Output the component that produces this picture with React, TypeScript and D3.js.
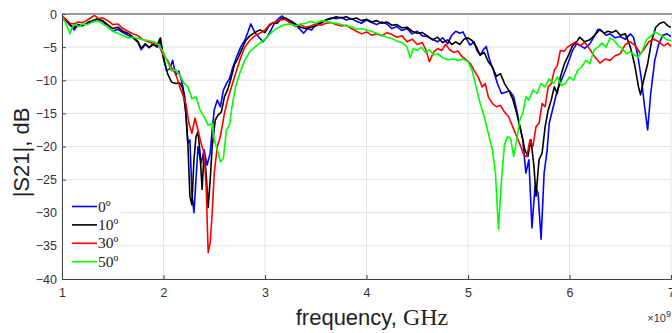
import React, { useEffect, useRef } from 'react';
import * as d3 from 'd3';

// frequency in GHz, |S21| in dB
const deg0: [number, number][] = [
  [1.0,-0.8],[1.04,-1.0],[1.08,-1.6],[1.12,-2.4],[1.15,-1.8],[1.2,-1.7],[1.25,-1.4],[1.3,-1.2],[1.35,-0.9],[1.4,-1.1],
  [1.45,-1.9],[1.5,-2.6],[1.55,-2.3],[1.6,-2.8],[1.65,-3.2],[1.7,-3.6],[1.75,-4.3],[1.78,-5.4],[1.82,-4.6],[1.86,-5.1],
  [1.9,-4.4],[1.94,-5.0],[1.97,-4.0],[2.0,-6.5],[2.03,-8.5],[2.06,-8.3],[2.09,-7.0],[2.12,-9.2],[2.15,-8.6],[2.18,-10.2],
  [2.21,-12.5],[2.24,-19.5],[2.26,-19.0],[2.28,-27],[2.3,-30],[2.32,-25],[2.34,-20],[2.37,-22.5],[2.4,-20.5],[2.43,-22.8],
  [2.46,-21],[2.48,-17.5],[2.5,-14.5],[2.53,-13],[2.56,-14],[2.59,-11.5],[2.62,-10.5],[2.65,-9.8],[2.68,-8.2],[2.72,-6.5],
  [2.76,-5.0],[2.8,-4.0],[2.83,-2.8],[2.86,-1.5],[2.9,-2.8],[2.94,-3.5],[2.98,-4.2],[3.02,-3.5],[3.06,-2.4],[3.1,-1.2],
  [3.14,-0.6],[3.17,-0.3],[3.2,-0.8],[3.25,-1.2],[3.3,-1.6],[3.35,-2.4],[3.38,-2.9],[3.42,-2.2],[3.46,-2.4],[3.5,-1.6],
  [3.55,-1.3],[3.6,-0.9],[3.65,-0.6],[3.7,-0.7],[3.75,-0.5],[3.8,-0.9],[3.85,-0.7],[3.9,-1.1],[3.95,-1.4],[4.0,-0.9],
  [4.05,-1.3],[4.1,-1.6],[4.15,-1.2],[4.2,-1.5],[4.25,-2.2],[4.3,-1.9],[4.35,-2.5],[4.4,-2.2],[4.45,-3.0],[4.5,-2.6],
  [4.55,-3.3],[4.6,-3.4],[4.65,-3.8],[4.7,-4.2],[4.75,-3.6],[4.8,-4.5],[4.84,-3.2],[4.88,-2.6],[4.92,-2.9],[4.95,-2.7],
  [4.98,-3.6],[5.02,-4.7],[5.06,-4.2],[5.09,-5.6],[5.12,-6.2],[5.15,-5.4],[5.18,-4.9],[5.21,-6.8],[5.25,-8.5],[5.29,-10.5],
  [5.33,-12.0],[5.37,-11.8],[5.41,-11.6],[5.45,-12.5],[5.48,-14.5],[5.51,-17],[5.54,-19],[5.57,-24],[5.6,-22],[5.63,-32.3],
  [5.66,-26],[5.69,-27],[5.72,-34],[5.75,-24],[5.78,-20.5],[5.8,-16.5],[5.84,-14],[5.88,-11.5],[5.92,-10],[5.96,-8.5],
  [6.0,-6.8],[6.03,-5.5],[6.07,-4.5],[6.1,-4.7],[6.15,-5.2],[6.2,-4.5],[6.24,-3.5],[6.28,-2.3],[6.32,-2.6],[6.36,-3.2],
  [6.4,-3.0],[6.45,-3.6],[6.5,-3.4],[6.55,-3.8],[6.6,-3.0],[6.63,-3.5],[6.67,-6],[6.71,-10],[6.74,-14],[6.77,-17.5],
  [6.8,-12],[6.84,-7],[6.88,-4.5],[6.92,-3.2],[6.96,-3.0],[7.0,-3.4],
];

const deg10: [number, number][] = [
  [1.0,-0.4],[1.04,-0.9],[1.08,-1.7],[1.12,-2.0],[1.16,-1.6],[1.2,-1.8],[1.25,-1.3],[1.3,-1.0],[1.35,-0.7],[1.4,-1.0],
  [1.45,-1.6],[1.5,-2.2],[1.55,-2.0],[1.6,-2.6],[1.65,-2.9],[1.7,-3.5],[1.75,-4.2],[1.78,-5.2],[1.82,-4.5],[1.86,-5.0],
  [1.9,-4.6],[1.93,-4.9],[1.97,-3.6],[2.0,-6.8],[2.04,-9.0],[2.08,-10.3],[2.12,-10.5],[2.16,-10.4],[2.19,-11.2],[2.22,-15],
  [2.24,-19.5],[2.26,-27.5],[2.28,-28.8],[2.3,-22],[2.32,-18.5],[2.34,-17.8],[2.36,-21],[2.38,-26.5],[2.4,-21],[2.42,-24],
  [2.44,-29.2],[2.46,-25],[2.48,-20],[2.51,-16],[2.54,-15.2],[2.57,-14.8],[2.6,-12.5],[2.63,-11.5],[2.66,-10],[2.7,-7.6],
  [2.73,-6.8],[2.77,-5.4],[2.81,-4.0],[2.85,-3.3],[2.9,-2.8],[2.95,-2.4],[3.0,-2.8],[3.04,-1.8],[3.08,-1.3],[3.12,-1.4],
  [3.16,-0.7],[3.2,-0.6],[3.25,-1.0],[3.3,-1.5],[3.35,-2.0],[3.4,-2.2],[3.45,-2.0],[3.5,-1.8],[3.55,-1.4],[3.6,-0.9],
  [3.65,-0.7],[3.7,-0.4],[3.75,-0.6],[3.8,-0.4],[3.85,-0.8],[3.9,-0.6],[3.95,-1.0],[4.0,-0.8],[4.05,-1.2],[4.1,-1.0],
  [4.15,-1.4],[4.2,-1.2],[4.25,-1.7],[4.3,-1.6],[4.35,-2.1],[4.4,-2.0],[4.45,-2.6],[4.5,-2.9],[4.55,-2.8],[4.6,-3.3],
  [4.65,-3.9],[4.7,-3.5],[4.75,-4.3],[4.8,-3.9],[4.84,-4.6],[4.88,-4.2],[4.92,-4.6],[4.96,-3.8],[5.0,-3.6],[5.04,-4.0],
  [5.08,-4.9],[5.12,-6.2],[5.16,-5.8],[5.2,-7.2],[5.24,-8.0],[5.28,-9.4],[5.32,-9.0],[5.36,-10.5],[5.4,-11.5],[5.44,-12.8],
  [5.48,-15],[5.52,-17.5],[5.56,-20.5],[5.59,-21.5],[5.62,-19],[5.65,-23],[5.67,-27.5],[5.7,-22],[5.73,-21],[5.76,-17],
  [5.79,-14.5],[5.82,-13],[5.85,-11],[5.88,-12],[5.91,-9.5],[5.95,-7.5],[5.99,-6.2],[6.03,-4.8],[6.07,-4.2],[6.1,-3.5],
  [6.15,-4.2],[6.2,-3.9],[6.25,-3.2],[6.3,-2.3],[6.34,-2.9],[6.38,-2.6],[6.42,-2.8],[6.46,-2.5],[6.5,-3.2],[6.55,-3.0],
  [6.6,-5.0],[6.64,-7.5],[6.68,-11],[6.7,-12.2],[6.73,-10],[6.77,-7.5],[6.81,-4.0],[6.85,-2.0],[6.89,-1.4],[6.93,-1.2],
  [6.97,-1.8],[7.0,-2.0],
];

const deg30: [number, number][] = [
  [1.0,-0.3],[1.04,-0.8],[1.08,-1.4],[1.12,-1.5],[1.16,-1.2],[1.2,-1.3],[1.24,-1.0],[1.28,-0.6],[1.32,-0.2],[1.36,-0.7],
  [1.4,-0.6],[1.45,-1.0],[1.5,-1.6],[1.55,-1.5],[1.6,-2.2],[1.65,-2.6],[1.7,-3.0],[1.75,-3.3],[1.8,-3.9],[1.85,-4.2],
  [1.9,-4.5],[1.95,-4.6],[2.0,-6.3],[2.04,-7.0],[2.08,-8.2],[2.12,-9.0],[2.16,-11.0],[2.19,-12.2],[2.22,-13.5],[2.25,-16.5],
  [2.28,-18],[2.31,-15.7],[2.34,-17.5],[2.37,-19.5],[2.4,-21],[2.42,-26],[2.44,-36],[2.46,-34.5],[2.48,-30],[2.5,-24],
  [2.53,-20],[2.56,-18.5],[2.6,-15],[2.64,-12.5],[2.68,-10.5],[2.72,-8.5],[2.76,-6.6],[2.8,-5.0],[2.85,-4.0],[2.9,-3.3],
  [2.95,-2.9],[3.0,-2.4],[3.05,-1.5],[3.1,-1.2],[3.15,-0.9],[3.2,-0.8],[3.25,-1.4],[3.3,-1.9],[3.35,-1.6],[3.4,-2.0],
  [3.45,-1.8],[3.5,-1.5],[3.55,-1.7],[3.6,-1.4],[3.65,-1.3],[3.7,-1.6],[3.75,-1.8],[3.8,-1.7],[3.85,-2.2],[3.9,-2.6],
  [3.95,-3.0],[4.0,-2.7],[4.05,-3.2],[4.1,-3.0],[4.15,-3.3],[4.2,-2.8],[4.25,-3.1],[4.3,-3.5],[4.35,-3.3],[4.4,-4.2],
  [4.45,-3.8],[4.5,-4.6],[4.55,-4.3],[4.59,-5.6],[4.62,-7.2],[4.66,-5.8],[4.7,-5.2],[4.74,-5.5],[4.78,-4.6],[4.82,-5.4],
  [4.86,-5.8],[4.9,-5.6],[4.94,-6.4],[4.98,-6.9],[5.02,-7.4],[5.06,-8.5],[5.1,-9.5],[5.14,-11],[5.17,-10.5],[5.2,-12.5],
  [5.24,-13.5],[5.28,-14.0],[5.32,-13.8],[5.36,-14.8],[5.4,-15.5],[5.44,-17],[5.48,-18.5],[5.52,-20],[5.55,-21.3],[5.58,-21.5],
  [5.61,-19],[5.64,-20],[5.67,-17],[5.7,-16.5],[5.73,-13.5],[5.76,-14],[5.79,-11],[5.82,-10.5],[5.85,-8.5],[5.88,-7.8],
  [5.91,-5.5],[5.95,-5.6],[5.98,-5.0],[6.02,-4.6],[6.06,-4.2],[6.1,-4.8],[6.15,-4.3],[6.2,-5.3],[6.25,-6.5],[6.3,-7.4],
  [6.35,-6.8],[6.4,-7.0],[6.45,-6.3],[6.5,-6.0],[6.55,-4.6],[6.6,-4.2],[6.65,-4.8],[6.7,-6.0],[6.74,-5.2],[6.78,-4.2],
  [6.83,-3.8],[6.88,-4.2],[6.93,-4.8],[6.97,-4.4],[7.0,-4.9],
];

const deg50: [number, number][] = [
  [1.0,-0.4],[1.03,-1.2],[1.06,-2.2],[1.08,-3.0],[1.1,-2.0],[1.13,-1.6],[1.17,-1.9],[1.2,-1.5],[1.25,-1.6],[1.3,-1.2],
  [1.35,-1.0],[1.4,-1.5],[1.45,-1.9],[1.5,-2.6],[1.55,-2.9],[1.6,-3.3],[1.65,-3.6],[1.7,-3.5],[1.75,-3.7],[1.8,-3.9],
  [1.85,-4.0],[1.9,-4.2],[1.95,-4.6],[2.0,-5.8],[2.04,-7.3],[2.08,-8.6],[2.12,-8.4],[2.16,-9.2],[2.2,-10.4],[2.24,-11.0],
  [2.28,-12.8],[2.32,-12.5],[2.36,-14.5],[2.4,-15.5],[2.44,-16.8],[2.48,-16.5],[2.5,-19.0],[2.53,-20.5],[2.56,-22.3],[2.59,-21.8],
  [2.62,-17.5],[2.65,-16.8],[2.68,-13.5],[2.71,-11.0],[2.75,-9.0],[2.8,-7.0],[2.85,-5.7],[2.9,-5.0],[2.95,-4.4],[3.0,-3.8],
  [3.05,-3.0],[3.1,-2.3],[3.15,-1.9],[3.2,-1.6],[3.25,-1.5],[3.3,-1.8],[3.35,-1.5],[3.4,-1.4],[3.45,-1.1],[3.5,-1.4],
  [3.55,-1.0],[3.6,-1.1],[3.65,-1.3],[3.7,-1.4],[3.75,-1.6],[3.8,-1.8],[3.85,-1.9],[3.9,-2.3],[3.95,-2.2],[4.0,-2.4],
  [4.05,-2.6],[4.1,-2.9],[4.15,-3.2],[4.2,-3.5],[4.25,-3.7],[4.3,-4.1],[4.35,-4.3],[4.4,-5.0],[4.43,-6.6],[4.46,-5.2],
  [4.5,-5.5],[4.54,-5.0],[4.58,-5.8],[4.62,-5.4],[4.66,-6.2],[4.7,-6.0],[4.75,-6.6],[4.8,-6.9],[4.85,-6.8],[4.9,-7.0],
  [4.95,-6.8],[5.0,-7.2],[5.04,-8.5],[5.08,-11],[5.12,-13.5],[5.16,-15.5],[5.2,-18],[5.24,-20.5],[5.27,-24],[5.3,-32.5],
  [5.33,-25],[5.36,-19.7],[5.39,-18.5],[5.42,-18.8],[5.45,-21.5],[5.48,-19],[5.51,-16],[5.54,-15],[5.57,-12.5],[5.6,-13],
  [5.64,-11.5],[5.68,-12],[5.72,-10.5],[5.76,-11],[5.8,-9.8],[5.84,-10.5],[5.88,-9.5],[5.92,-10.8],[5.96,-10.5],[6.0,-9.5],
  [6.04,-10],[6.08,-8.5],[6.12,-8.0],[6.16,-7.0],[6.2,-7.5],[6.24,-5.5],[6.28,-5.0],[6.32,-4.4],[6.36,-5.0],[6.4,-3.6],
  [6.44,-4.0],[6.48,-4.8],[6.52,-5.2],[6.56,-6.0],[6.6,-5.7],[6.64,-6.2],[6.68,-6.5],[6.72,-5.4],[6.76,-3.8],[6.8,-3.4],
  [6.84,-2.7],[6.88,-3.0],[6.92,-3.4],[6.96,-3.9],[7.0,-4.0],
];

const seriesNames = ['0º', '10º', '30º', '50º'];
const seriesColors = ['#0000ff', '#000000', '#ff0000', '#00ff00'];
const seriesData = [deg0, deg10, deg30, deg50];
const xTicks = [1, 2, 3, 4, 5, 6, 7];
const yTicks = [0, -5, -10, -15, -20, -25, -30, -35, -40];

export default function App() {
  const svgRef = useRef<SVGSVGElement>(null);

  useEffect(() => {
    const svg = d3.select(svgRef.current);
    svg.selectAll('*').remove();

    const width = 672;
    const height = 333;
    const margin = { top: 14, right: 1, bottom: 54, left: 62 };
    const sans = '"Liberation Sans", Arial, sans-serif';
    const serif = '"Liberation Serif", "Times New Roman", serif';

    const x = d3.scaleLinear().domain([1, 7]).range([margin.left, width - margin.right]);
    const y = d3.scaleLinear().domain([-40, 0]).range([height - margin.bottom, margin.top]);

    svg.append('rect').attr('width', width).attr('height', height).attr('fill', '#fff');

    // grid
    const grid = svg.append('g').attr('stroke', '#e3e3e3').attr('stroke-width', 1);
    xTicks.forEach(t => {
      grid.append('line')
        .attr('x1', x(t)).attr('x2', x(t))
        .attr('y1', y(0)).attr('y2', y(-40));
    });
    yTicks.forEach(t => {
      grid.append('line')
        .attr('x1', x(1)).attr('x2', x(7))
        .attr('y1', y(t)).attr('y2', y(t));
    });

    // curves
    const line = d3.line<[number, number]>()
      .x(d => x(d[0]))
      .y(d => y(d[1]));

    const clip = svg.append('clipPath').attr('id', 'plotclip');
    clip.append('rect')
      .attr('x', x(1)).attr('y', y(0) - 2)
      .attr('width', x(7) - x(1)).attr('height', y(-40) - y(0) + 2);

    const curves = svg.append('g').attr('clip-path', 'url(#plotclip)');
    seriesData.forEach((s, i) => {
      curves.append('path')
        .datum(s)
        .attr('d', line)
        .attr('fill', 'none')
        .attr('stroke', seriesColors[i])
        .attr('stroke-width', 1.6)
        .attr('stroke-linejoin', 'round');
    });

    // axes box
    svg.append('line')
      .attr('x1', x(1)).attr('x2', width)
      .attr('y1', y(0)).attr('y2', y(0))
      .attr('stroke', '#9a9a9a').attr('stroke-width', 2.2);

    const xAxis = svg.append('g')
      .attr('transform', `translate(0,${y(-40)})`)
      .call(d3.axisBottom(x).tickValues(xTicks).tickSize(-4).tickPadding(9).tickFormat(d3.format('d')));
    xAxis.select('.domain').attr('stroke', '#444');
    xAxis.selectAll('.tick line').attr('stroke', '#444');
    xAxis.selectAll('.tick text')
      .attr('font-family', sans).attr('font-size', 12.5).attr('fill', '#333');

    const yAxis = svg.append('g')
      .attr('transform', `translate(${x(1)},0)`)
      .call(d3.axisLeft(y).tickValues(yTicks).tickSize(-4).tickPadding(5).tickFormat(d3.format('d')));
    yAxis.select('.domain').attr('stroke', '#444');
    yAxis.selectAll('.tick line').attr('stroke', '#444');
    yAxis.selectAll('.tick text')
      .attr('font-family', sans).attr('font-size', 12.5).attr('fill', '#333');

    // legend
    const lg = svg.append('g');
    lg.append('rect')
      .attr('x', x(1) + 1).attr('y', 196)
      .attr('width', 58).attr('height', 76)
      .attr('fill', '#fff');
    seriesNames.forEach((name, i) => {
      const ly = 206.5 + i * 18.4;
      lg.append('line')
        .attr('x1', 72).attr('x2', 97)
        .attr('y1', ly).attr('y2', ly)
        .attr('stroke', seriesColors[i]).attr('stroke-width', 1.6);
      lg.append('text')
        .attr('x', 98).attr('y', ly + 5)
        .attr('font-family', serif).attr('font-size', 15.5)
        .attr('fill', '#222')
        .text(name);
    });

    // labels
    svg.append('text')
      .attr('transform', `translate(29,${(y(0) + y(-40)) / 2 + 6}) rotate(-90)`)
      .attr('text-anchor', 'middle')
      .attr('font-family', sans).attr('font-size', 22).attr('fill', '#222')
      .text('|S21|, dB');

    const xl = svg.append('text')
      .attr('x', 372).attr('y', 325)
      .attr('text-anchor', 'middle')
      .attr('fill', '#222');
    xl.append('tspan').attr('font-family', sans).attr('font-size', 22).text('frequency, ');
    xl.append('tspan').attr('font-family', serif).attr('font-size', 24).text('GHz');

    const ex = svg.append('text')
      .attr('x', 671).attr('y', 322)
      .attr('text-anchor', 'end')
      .attr('font-family', sans).attr('font-size', 11).attr('fill', '#333');
    ex.append('tspan').text('×10');
    ex.append('tspan').attr('dy', -5).attr('font-size', 9).text('9');
  }, []);

  return (
    <svg
      ref={svgRef}
      width={672}
      height={333}
      style={{ position: 'absolute', left: 0, top: 0, display: 'block' }}
    />
  );
}
